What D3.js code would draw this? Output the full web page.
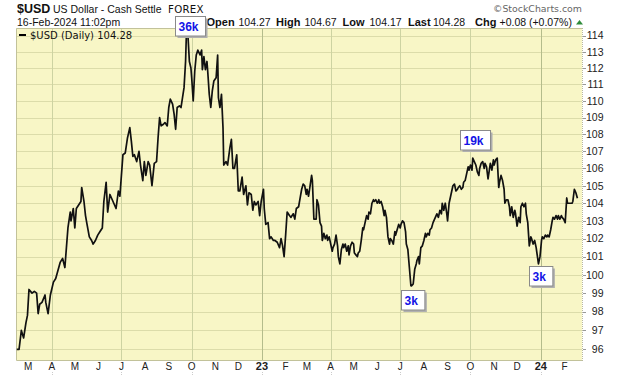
<!DOCTYPE html>
<html>
<head>
<meta charset="utf-8">
<script src="https://cdn.jsdelivr.net/npm/d3@7"></script>
<style>
  body { margin: 0; background: #fff; }
  svg { display: block; }
</style>
</head>
<body>
<div id="chart"></div>
<script>
// days counted from 13 Feb 2022
const baseDate = new Date(2022, 1, 13);
const dayOffsets = [
  1, 4, 7, 10, 13, 15, 17, 21, 24, 27,
  29, 31, 34, 38, 39, 42, 45, 49, 52, 54,
  56, 58, 61, 64, 66, 68, 71, 72, 75, 77,
  79, 82, 85, 86, 89, 91, 93, 96, 99, 101,
  104, 107, 110, 113, 115, 118, 120, 123, 126, 128,
  131, 134, 136, 138, 140, 143, 146, 147, 149, 151,
  153, 155, 158, 161, 163, 166, 168, 170, 173, 175,
  178, 181, 184, 186, 188, 190, 193, 195, 198, 200,
  202, 205, 207, 209, 211, 214, 216, 218, 220, 222,
  223, 225, 227, 229, 230, 232, 234, 236, 238, 241,
  243, 244, 246, 248, 250, 251, 253, 255, 257, 259,
  262, 264, 265, 267, 269, 271, 272, 275, 277, 280,
  282, 284, 286, 289, 291, 293, 296, 298, 301, 303,
  305, 308, 310, 312, 314, 317, 319, 321, 324, 325,
  327, 330, 332, 334, 337, 339, 342, 345, 347, 349,
  351, 353, 355, 358, 360, 363, 365, 367, 370, 372,
  374, 376, 378, 380, 381, 383, 385, 387, 388, 390,
  393, 394, 396, 398, 400, 401, 403, 405, 407, 408,
  410, 412, 414, 415, 417, 419, 421, 422, 424, 426,
  428, 429, 431, 433, 435, 436, 438, 440, 442, 443,
  445, 447, 448, 450, 452, 454, 455, 457, 459, 461,
  462, 464, 466, 468, 469, 471, 473, 475, 476, 478,
  480, 482, 483, 485, 487, 489, 490, 492, 494, 496,
  497, 499, 501, 503, 504, 506, 508, 510, 511, 513,
  515, 517, 518, 520, 522, 524, 525, 527, 528, 530,
  532, 534, 536, 537, 539, 541, 542, 544, 546, 548,
  550, 551, 553, 555, 557, 558, 560, 562, 564, 565,
  567, 569, 571, 572, 574, 576, 578, 579, 581, 583,
  585, 586, 588, 590, 592, 593, 595, 597, 598, 600,
  602, 604, 606, 607, 609, 611, 613, 614, 616, 618,
  620, 621, 623, 625, 626, 628, 630, 632, 633, 635,
  637, 639, 640, 642, 644, 646, 647, 649, 651, 653,
  654, 656, 658, 660, 661, 663, 665, 667, 668, 670,
  672, 674, 675, 677, 679, 681, 682, 684, 686, 688,
  689, 691, 693, 695, 696, 698, 700, 702, 703, 705,
  707, 709, 710, 712, 714, 715, 717, 719, 721, 722,
  724, 726, 728, 729, 731, 733, 735
];
const closes = [
  96.0, 96.0, 97.0, 96.6, 97.4, 97.8, 99.2, 99.0, 99.1, 99.0,
  97.9, 98.4, 98.5, 98.9, 98.5, 97.9, 98.9, 99.6, 99.8, 100.1,
  100.4, 100.7, 100.9, 100.4, 101.5, 102.6, 103.5, 103.0, 103.7, 102.6,
  103.7, 103.9, 104.1, 104.9, 104.1, 103.3, 102.8, 102.1, 101.9, 101.7,
  101.9, 102.2, 102.4, 102.6, 104.1, 105.2, 103.5, 104.5, 104.2, 104.0,
  103.7, 104.7, 104.4, 105.6, 106.8, 106.9, 107.8, 108.0, 108.4, 107.6,
  106.7, 106.8, 106.4, 107.0, 106.2, 105.3, 106.4, 105.6, 106.4, 106.2,
  105.0, 106.3, 106.4, 107.8, 109.0, 108.5, 108.6, 108.7, 108.5, 109.6,
  110.1, 109.8, 109.2, 108.3, 109.6, 109.7, 109.6, 110.2, 110.8, 112.4,
  114.0, 114.1, 112.4, 112.0, 111.4, 110.0, 111.8, 112.8, 113.1, 112.8,
  113.1, 111.9, 112.7, 111.9, 112.4, 111.8, 110.4, 109.6, 110.6, 111.2,
  111.4, 112.8, 110.2, 109.6, 110.4, 108.4, 106.2, 106.4, 106.2, 107.2,
  107.7, 106.0, 106.0, 106.8, 104.7, 104.7, 105.5, 104.5, 105.0, 103.9,
  104.6, 104.5, 103.6, 104.1, 103.9, 104.1, 103.3, 104.1, 104.8, 103.7,
  102.8, 102.9, 102.0, 102.1, 101.9, 101.9, 101.8, 101.5, 102.0, 101.6,
  101.0, 102.2, 103.5, 103.3, 103.2, 103.4, 103.1, 103.7, 103.8, 104.3,
  104.8, 105.1, 105.0, 104.5, 104.8, 104.4, 105.0, 105.6, 105.3, 103.1,
  103.1, 104.2, 103.9, 102.9, 102.7, 101.9, 102.3, 102.0, 102.2, 101.9,
  102.1, 101.7, 101.3, 101.5, 101.7, 102.2, 101.6, 101.0, 100.6, 101.4,
  101.7, 101.5, 101.7, 101.3, 101.6, 101.1, 101.6, 101.8, 101.7, 101.2,
  101.1, 101.0, 101.2, 101.3, 101.9, 102.6, 102.5, 102.9, 103.3, 103.1,
  103.5, 103.4, 104.0, 104.2, 104.1, 104.2, 104.0, 104.2, 104.0, 104.1,
  103.8, 103.3, 103.6, 103.2, 102.1, 101.7, 102.0, 101.9, 101.7, 102.4,
  102.2, 102.5, 102.8, 102.6, 102.8, 103.0, 102.9, 102.4, 101.7, 101.4,
  100.4, 99.4, 99.4, 99.5, 100.3, 100.6, 100.8, 101.0, 100.6, 101.5,
  101.6, 101.9, 102.3, 102.1, 102.3, 102.2, 102.5, 102.6, 102.9, 103.1,
  103.3, 103.4, 103.2, 103.6, 103.4, 104.0, 103.6, 104.0, 103.4, 103.0,
  104.0, 104.4, 104.8, 105.0, 105.1, 104.7, 104.8, 104.9, 105.0, 104.8,
  104.9, 105.2, 105.3, 105.7, 106.1, 105.9, 106.2, 105.9, 106.6, 106.4,
  106.2, 105.8, 105.6, 106.0, 106.3, 106.4, 106.0, 106.3, 106.1, 105.4,
  106.0, 106.3, 105.9, 106.5, 106.2, 106.5, 106.6, 104.9, 105.2, 105.6,
  105.3, 104.8, 104.0, 104.2, 104.2, 103.8, 103.3, 103.8, 103.2, 103.6,
  103.4, 102.7, 103.2, 102.9, 103.8, 104.0, 103.8, 104.0, 103.4, 102.9,
  101.6, 102.1, 102.0, 101.7, 101.9, 101.5, 101.2, 100.6, 101.0, 101.9,
  102.1, 102.0, 102.2, 102.1, 102.2, 102.1, 102.5, 103.0, 103.2, 103.1,
  103.3, 103.1, 103.3, 103.1, 103.3, 103.2, 103.1, 102.9, 104.3, 104.0,
  104.0, 104.0, 104.0, 104.1, 104.8, 104.6, 104.28
];
const yTickValues = [96, 97, 98, 99, 100, 101, 102, 103, 104, 105, 106, 107, 108, 109, 110, 111, 112, 113, 114];

// boxed labels on the line
const noteOffsets = [225, 517, 598, 684];
const noteValues = [114.1, 99.4, 106.6, 100.6];
const noteLabels = ['36k', '3k', '19k', '3k'];
const notePlace = ['above', 'below', 'above', 'below'];
const noteGap = [-1, 4, 9, 2];

const width = 620;
const height = 376;
const plot = { left: 16, right: 582, top: 28, bottom: 360 };
const arial = '"Liberation Sans", Arial, sans-serif';
const dejavu = '"DejaVu Sans", Verdana, sans-serif';

const data = dayOffsets.map((d, i) => ({ date: d3.timeDay.offset(baseDate, d), close: closes[i] }));

const svg = d3.select('#chart')
  .append('svg')
  .attr('width', width)
  .attr('height', height);

const x = d3.scaleTime()
  .domain([baseDate, d3.timeDay.offset(baseDate, 741)])
  .range([plot.left, plot.right]);

const y = d3.scaleLog()
  .domain([95.44, 114.48])
  .range([plot.bottom, plot.top]);

// plot background
svg.append('rect')
  .attr('x', plot.left)
  .attr('y', plot.top)
  .attr('width', plot.right - plot.left)
  .attr('height', plot.bottom - plot.top)
  .attr('fill', '#f8f6c6');

// horizontal grid
svg.append('g')
  .selectAll('line')
  .data(yTickValues)
  .enter()
  .append('line')
  .attr('x1', plot.left)
  .attr('x2', plot.right)
  .attr('y1', d => Math.round(y(d)) + 0.5)
  .attr('y2', d => Math.round(y(d)) + 0.5)
  .attr('stroke', '#dcdcaa')
  .attr('stroke-width', 1);

// vertical grid at quarters, darker at new year
const months = d3.timeMonth.range(new Date(2022, 2, 1), new Date(2024, 1, 2));
const quarters = months.filter(m => m.getMonth() % 3 === 0);

svg.append('g')
  .selectAll('line')
  .data(quarters)
  .enter()
  .append('line')
  .attr('x1', d => Math.round(x(d)) + 0.5)
  .attr('x2', d => Math.round(x(d)) + 0.5)
  .attr('y1', plot.top)
  .attr('y2', plot.bottom)
  .attr('stroke', d => d.getMonth() === 0 ? '#b4bc8c' : '#cdd3a2')
  .attr('stroke-width', 1);

// frame
svg.append('path')
  .attr('d', `M${plot.right},${plot.top + 0.5}H${plot.left + 0.5}V${plot.bottom + 0.5}H${plot.right}`)
  .attr('fill', 'none')
  .attr('stroke', '#c2c29a');

svg.append('line')
  .attr('x1', plot.right + 0.5)
  .attr('x2', plot.right + 0.5)
  .attr('y1', plot.top)
  .attr('y2', plot.bottom + 1)
  .attr('stroke', '#b8b8a0')
  .attr('stroke-dasharray', '1,1');

// right axis
const yAxis = svg.append('g');
yAxis.selectAll('line')
  .data(yTickValues)
  .enter()
  .append('line')
  .attr('x1', plot.right + 1)
  .attr('x2', plot.right + 4)
  .attr('y1', d => Math.round(y(d)) + 0.5)
  .attr('y2', d => Math.round(y(d)) + 0.5)
  .attr('stroke', '#999');

yAxis.selectAll('text')
  .data(yTickValues)
  .enter()
  .append('text')
  .attr('x', 603.5)
  .attr('y', d => y(d))
  .attr('dy', '0.36em')
  .attr('text-anchor', 'end')
  .attr('font-family', arial)
  .attr('font-size', 10.5)
  .attr('fill', '#222')
  .text(d => d);

// bottom axis
const xAxis = svg.append('g');
xAxis.selectAll('text')
  .data(months)
  .enter()
  .append('text')
  .attr('x', d => x(d))
  .attr('y', 369.5)
  .attr('text-anchor', 'middle')
  .attr('font-family', arial)
  .attr('font-size', d => d.getMonth() === 0 ? 11 : 10)
  .attr('font-weight', d => d.getMonth() === 0 ? 'bold' : 'normal')
  .attr('fill', '#222')
  .text(d => d.getMonth() === 0 ? d3.timeFormat('%y')(d) : d3.timeFormat('%b')(d).charAt(0));

xAxis.selectAll('line')
  .data(quarters)
  .enter()
  .append('line')
  .attr('x1', d => Math.round(x(d)) + 0.5)
  .attr('x2', d => Math.round(x(d)) + 0.5)
  .attr('y1', 372)
  .attr('y2', 375)
  .attr('stroke', '#ccc')
  .attr('stroke-dasharray', '1,1');

// price line
const line = d3.line()
  .x(d => x(d.date))
  .y(d => y(d.close));

svg.append('path')
  .datum(data)
  .attr('d', line)
  .attr('fill', 'none')
  .attr('stroke', '#111')
  .attr('stroke-width', 1.7)
  .attr('stroke-linejoin', 'round');

// legend
svg.append('line')
  .attr('x1', 19)
  .attr('x2', 26)
  .attr('y1', 35)
  .attr('y2', 35)
  .attr('stroke', '#000')
  .attr('stroke-width', 2);

svg.append('text')
  .attr('x', 30)
  .attr('y', 39)
  .attr('font-family', dejavu)
  .attr('font-size', 10)
  .attr('fill', '#111')
  .text('$USD (Daily) 104.28');

// header
const title = svg.append('text')
  .attr('y', 12.5)
  .attr('fill', '#111');
title.append('tspan')
  .attr('x', 17)
  .attr('font-family', arial)
  .attr('font-size', 12.5)
  .attr('font-weight', 'bold')
  .text('$USD');
title.append('tspan')
  .attr('x', 53)
  .attr('font-family', arial)
  .attr('font-size', 10.5)
  .text('US Dollar - Cash Settle');
title.append('tspan')
  .attr('x', 168)
  .attr('font-family', dejavu)
  .attr('font-size', 10.2)
  .attr('letter-spacing', 0.3)
  .text('FOREX');

svg.append('text')
  .attr('x', 17)
  .attr('y', 25.5)
  .attr('font-family', arial)
  .attr('font-size', 10.5)
  .attr('fill', '#111')
  .text('16-Feb-2024 11:02pm');

const quoteLabels = ['Open', 'High', 'Low', 'Last', 'Chg'];
const quoteValues = ['104.27', '104.67', '104.17', '104.28', '+0.08 (+0.07%)'];
const quoteLabelX = [206.5, 276, 342.5, 408, 475];
const quoteValueX = [238.5, 304.5, 369.5, 433, 499.5];

const quote = svg.append('g')
  .attr('font-family', arial)
  .attr('fill', '#111');
quoteLabels.forEach((lab, i) => {
  quote.append('text')
    .attr('x', quoteLabelX[i])
    .attr('y', 25.5)
    .attr('font-size', 11)
    .attr('font-weight', 'bold')
    .text(lab);
  quote.append('text')
    .attr('x', quoteValueX[i])
    .attr('y', 25.5)
    .attr('font-size', 10.5)
    .text(quoteValues[i]);
});

svg.append('path')
  .attr('d', 'M576,24.5L579.5,20L583,24.5Z')
  .attr('fill', '#2e8b3a');

svg.append('text')
  .attr('x', 582)
  .attr('y', 11.5)
  .attr('text-anchor', 'end')
  .attr('font-family', dejavu)
  .attr('font-size', 9.4)
  .attr('fill', '#666')
  .text('\u00A9StockCharts.com');

// annotation boxes
const notes = svg.append('g');
noteLabels.forEach((lab, i) => {
  const cx = x(d3.timeDay.offset(baseDate, noteOffsets[i]));
  const py = y(noteValues[i]);
  const g = notes.append('g');
  const t = g.append('text')
    .attr('font-family', arial)
    .attr('font-size', 12)
    .attr('font-weight', 'bold')
    .attr('fill', '#1414e6')
    .text(lab);
  const tw = t.node().getComputedTextLength();
  const bh = 19.5;
  const bw = tw + 10;
  const bx = Math.round(cx - tw / 2 - 3) + 0.5;
  const by = notePlace[i] === 'above'
    ? Math.round(py - noteGap[i] - bh) + 0.5
    : Math.round(py + noteGap[i]) + 0.5;
  g.insert('rect', 'text')
    .attr('x', bx + 2)
    .attr('y', by + 2)
    .attr('width', bw)
    .attr('height', bh)
    .attr('fill', '#b0b0b0');
  g.insert('rect', 'text')
    .attr('x', bx)
    .attr('y', by)
    .attr('width', bw)
    .attr('height', bh)
    .attr('fill', '#fff')
    .attr('stroke', '#8a8a8a');
  t.attr('x', bx + 3)
    .attr('y', by + 14);
});
</script>
</body>
</html>
